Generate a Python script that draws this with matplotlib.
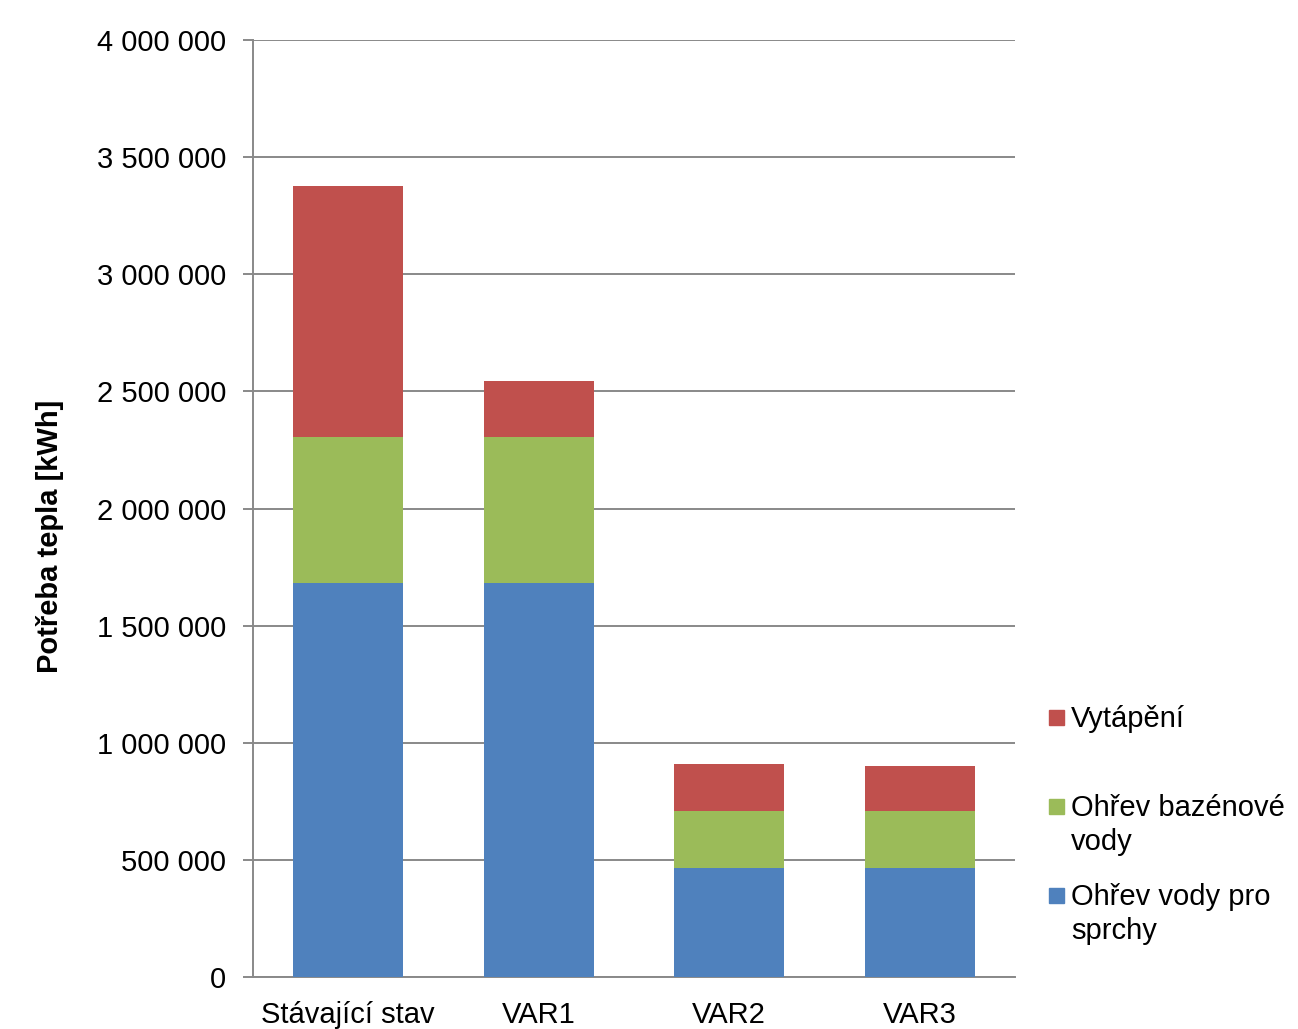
import matplotlib
matplotlib.use("Agg")
import matplotlib.pyplot as plt
from matplotlib.patches import Rectangle
from matplotlib.ticker import FuncFormatter, MultipleLocator

plt.rcParams['font.family'] = ['Liberation Sans', 'DejaVu Sans']

# heat demand per variant [kWh]
categories = ['Stávající stav', 'VAR1', 'VAR2', 'VAR3']
sprchy = [1682000, 1682000, 465000, 465000]
bazen = [623000, 623000, 244000, 244000]
vytapeni = [1072000, 239000, 200000, 192000]

series_labels = ['Ohřev vody pro\nsprchy', 'Ohřev bazénové\nvody', 'Vytápění']
colors = ['#4F81BD', '#9BBB59', '#C0504D']
grid_col = '#898989'
fs = 21

fig = plt.figure(figsize=(12.98, 10.29), dpi=100)
ax = fig.add_axes([253 / 1298, 1 - 977 / 1029, (1015 - 253) / 1298, (977 - 40) / 1029])

x = range(len(categories))
bottom = [0] * len(categories)
for vals, col in zip([sprchy, bazen, vytapeni], colors):
    ax.bar(x, vals, width=0.58, bottom=bottom, color=col, zorder=3)
    bottom = [b + v for b, v in zip(bottom, vals)]

ax.set_xlim(-0.5, len(categories) - 0.5)
ax.set_ylim(0, 4000000)
ax.yaxis.set_major_locator(MultipleLocator(500000))
ax.yaxis.set_major_formatter(FuncFormatter(lambda v, p: f"{v:,.0f}".replace(",", " ")))
ax.set_xticks(list(x))
ax.set_xticklabels(categories)

ax.grid(axis='y', color=grid_col, linewidth=1.4, zorder=0)
for s in ['top', 'right']:
    ax.spines[s].set_visible(False)
for s in ['left', 'bottom']:
    ax.spines[s].set_color(grid_col)
    ax.spines[s].set_linewidth(1.4)
ax.tick_params(axis='y', length=7.2, width=1.4, color=grid_col, pad=12, labelsize=fs)
ax.tick_params(axis='x', length=0, pad=17, labelsize=fs)

ax.set_ylabel('Potřeba tepla [kWh]', fontsize=21, fontweight='bold')
ax.yaxis.set_label_coords(-0.248, 0.47)

# legend drawn by hand so the swatch lines up with the first text line
W, H = 1298, 1029
entry_y = [895, 806, 717]
for lab, col, yc in zip(series_labels, colors, entry_y):
    fig.patches.append(Rectangle((1049 / W, 1 - (yc + 7.5) / H), 15 / W, 15 / H,
                                 transform=fig.transFigure, color=col))
    fig.text(1071 / W, 1 - (yc - 12) / H, lab, fontsize=fs, va='top', ha='left',
             linespacing=1.27)

fig.savefig('out.png', dpi=100)
